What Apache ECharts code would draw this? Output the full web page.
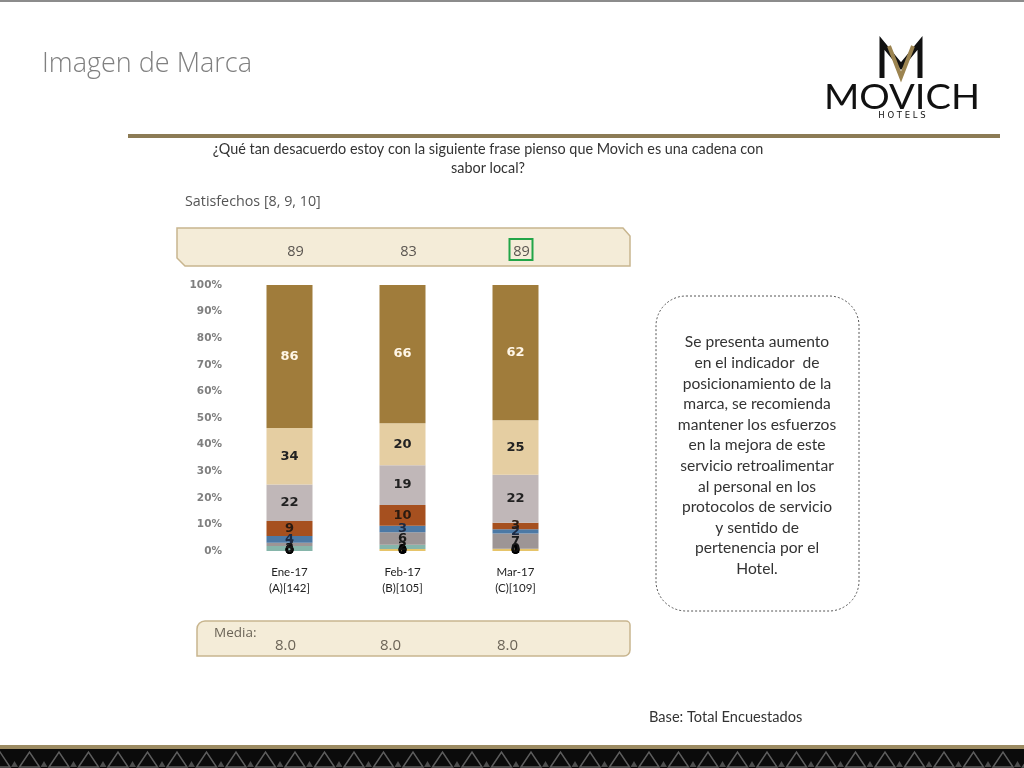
<!DOCTYPE html>
<html><head><meta charset="utf-8">
<script src="https://cdn.jsdelivr.net/npm/echarts@6/dist/echarts.min.js"></script>
<style>html,body{margin:0;padding:0;background:#fff}#c{width:1024px;height:768px}</style>
</head><body><div id="c"></div>
<script>
// ---- data ----
const categories = ['Ene-17\n(A)[142]', 'Feb-17\n(B)[105]', 'Mar-17\n(C)[109]'];
const scaleNames = ['0', '1', '2', '3', '4', '5', '6', '7', '8', '9', '10'];
const s0 = [0, 0, 0];
const s1 = [0, 0, 0];
const s2 = [0, 0, 0];
const s3 = [0, 1, 1];
const s4 = [3, 2, 0];
const s5 = [2, 6, 7];
const s6 = [4, 3, 2];
const s7 = [9, 10, 3];
const s8 = [22, 19, 22];
const s9 = [34, 20, 25];
const s10 = [86, 66, 62];
const mediaValues = ['8.0', '8.0', '8.0'];
const highlightIndex = 2;

const seriesData = [s0, s1, s2, s3, s4, s5, s6, s7, s8, s9, s10];
const colors = ['#3a3a3a', '#5a5a5a', '#d9c27a', '#e6c46a', '#86b5aa', '#9d9595', '#4c79a5', '#a6501f', '#c0b7b8', '#e5cea2', '#a07c3b'];
const labelColors = ['#000', '#000', '#000', '#000', '#111', '#1a1a1a', '#1b2a44', '#2a1a10', '#222', '#222', '#fff6e6'];

const totals = categories.map((c, i) => seriesData.reduce((a, s) => a + s[i], 0));
const satisfied = categories.map((c, i) => Math.round((s8[i] + s9[i] + s10[i]) / totals[i] * 100));

const chart = echarts.init(document.getElementById('c'));
const series = seriesData.map((arr, k) => ({
  name: scaleNames[k],
  type: 'bar',
  stack: 'total',
  barWidth: 46,
  itemStyle: { color: colors[k] },
  data: arr.map((v, i) => ({ value: v / totals[i] * 100, raw: v })),
  label: {
    show: true,
    position: 'inside',
    formatter: p => String(p.data.raw),
    color: labelColors[k],
    fontFamily: 'DejaVu Sans',
    fontWeight: 'bold',
    fontSize: 13
  }
}));

// decorative footer pattern
const footer = [
  { type: 'rect', shape: { x: 0, y: 745, width: 1024, height: 4 }, style: { fill: '#9c8b62' } },
  { type: 'rect', shape: { x: 0, y: 749, width: 1024, height: 19 }, style: { fill: '#0b0b0b' } }
];
for (let x = -10; x < 1040; x += 29.5) {
  footer.push({ type: 'polygon', shape: { points: [[x, 767], [x + 10, 752], [x + 20, 767]] }, style: { fill: 'none', stroke: '#5e5e5e', lineWidth: 1.5 } });
  footer.push({ type: 'polygon', shape: { points: [[x + 21, 767], [x + 24.5, 761], [x + 28, 767]] }, style: { fill: '#4e4e4e' } });
}

const graphic = [
  { type: 'rect', shape: { x: 0, y: 0, width: 1024, height: 2 }, style: { fill: '#8c8c8c' } },
  { type: 'text', style: { text: 'Imagen de Marca', x: 42, y: 64, verticalAlign: 'middle', font: '300 27px "Open Sans", Lato, sans-serif', fill: '#808080' } },
  // logo
  { type: 'polyline', shape: { points: [[882, 78], [882, 43], [901, 66], [920, 43], [920, 78]] }, style: { stroke: '#111', lineWidth: 5, fill: 'none', lineJoin: 'miter' } },
  { type: 'polyline', shape: { points: [[889, 46], [901, 77], [913, 46]] }, style: { stroke: '#9c8450', lineWidth: 4, fill: 'none' } },
  { type: 'text', x: 902, y: 98, scaleX: 1.12, style: { text: 'MOVICH', x: 0, y: 0, align: 'center', verticalAlign: 'middle', font: '34px Lato, "Noto Sans", sans-serif', fill: '#111' } },
  { type: 'text', style: { text: 'H O T E L S', x: 902, y: 116, align: 'center', verticalAlign: 'middle', font: '8.5px "DejaVu Sans", sans-serif', fill: '#111' } },
  { type: 'rect', shape: { x: 128, y: 134, width: 872, height: 4 }, style: { fill: '#8c7b55' } },
  // question
  { type: 'text', style: { text: '¿Qué tan desacuerdo estoy con la siguiente frase pienso que Movich es una cadena con', x: 488, y: 149, align: 'center', verticalAlign: 'middle', font: '14.4px Lato, sans-serif', fill: '#333' } },
  { type: 'text', style: { text: 'sabor local?', x: 488, y: 168, align: 'center', verticalAlign: 'middle', font: '14.4px Lato, sans-serif', fill: '#333' } },
  { type: 'text', style: { text: 'Satisfechos [8, 9, 10]', x: 185, y: 202, verticalAlign: 'middle', font: '14.3px "Open Sans", sans-serif', fill: '#555' } },
  // top panel
  { type: 'polygon', shape: { points: [[177, 228], [623, 228], [630, 236], [630, 266], [185, 266], [177, 258]] }, style: { fill: '#f4ecd8', stroke: '#c8b58e', lineWidth: 1.5 } },
  // bottom panel
  { type: 'rect', shape: { x: 197, y: 621, width: 433, height: 35, r: [8, 4, 6, 0] }, style: { fill: '#f4ecd8', stroke: '#c8b58e', lineWidth: 1.5 } },
  { type: 'text', style: { text: 'Media:', x: 214, y: 633, verticalAlign: 'middle', font: '13.5px "Open Sans", sans-serif', fill: '#6b6457' } },
  // comment box
  { type: 'rect', shape: { x: 656, y: 296, width: 203, height: 315, r: 30 }, style: { fill: '#fff', stroke: '#555', lineWidth: 1, lineDash: [2, 2] } },
  { type: 'text', style: { text: 'Se presenta aumento\nen el indicador  de\nposicionamiento de la\nmarca, se recomienda\nmantener los esfuerzos\nen la mejora de este\nservicio retroalimentar\nal personal en los\nprotocolos de servicio\ny sentido de\npertenencia por el\nHotel.', x: 757, y: 332, align: 'center', verticalAlign: 'top', lineHeight: 20.6, font: '15.6px Lato, sans-serif', fill: '#333' } },
  { type: 'text', style: { text: 'Base: Total Encuestados', x: 649, y: 717, verticalAlign: 'middle', font: '14.6px Lato, sans-serif', fill: '#333' } }
].concat(footer);

chart.setOption({
  animation: false,
  grid: { left: 233, right: 452, top: 285, bottom: 217 },
  xAxis: {
    type: 'category', data: categories,
    axisLine: { show: false }, axisTick: { show: false },
    axisLabel: { margin: 13, color: '#222', fontFamily: 'Lato, sans-serif', fontSize: 11.5, lineHeight: 16 }
  },
  yAxis: {
    type: 'value', min: 0, max: 100, interval: 10,
    splitLine: { show: false }, axisLine: { show: false }, axisTick: { show: false },
    axisLabel: { formatter: '{value}%', color: '#7f7f7f', fontFamily: 'DejaVu Sans', fontWeight: 'bold', fontSize: 10.5, margin: 11 }
  },
  series: series,
  graphic: graphic
});

// category-aligned texts
const mediaOffsets = [-4, -12, -8];
const extra = [];
categories.forEach((c, i) => {
  const x = chart.convertToPixel({ xAxisIndex: 0 }, i);
  extra.push({ type: 'text', style: { text: String(satisfied[i]), x: x + 6, y: 252, align: 'center', verticalAlign: 'middle', font: '14.5px "Open Sans", sans-serif', fill: '#5a5550' } });
  extra.push({ type: 'text', style: { text: mediaValues[i], x: x + mediaOffsets[i], y: 646, align: 'center', verticalAlign: 'middle', font: '15px "Open Sans", sans-serif', fill: '#6b6457' } });
  if (i === highlightIndex) {
    extra.push({ type: 'rect', shape: { x: x - 6, y: 239, width: 23, height: 21 }, style: { fill: 'none', stroke: '#22a548', lineWidth: 2 } });
  }
});
chart.setOption({ graphic: graphic.concat(extra) });
</script></body></html>
